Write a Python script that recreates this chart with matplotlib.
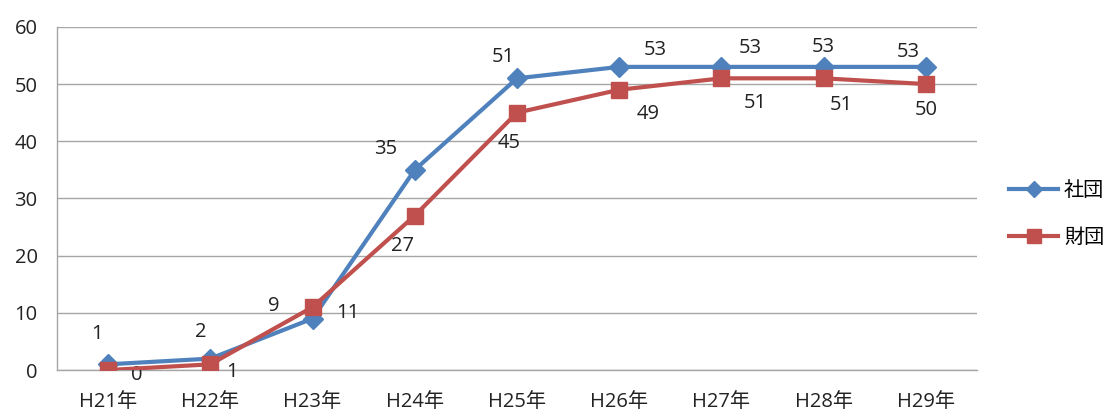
import matplotlib
matplotlib.use("Agg")
import matplotlib.pyplot as plt

plt.rcParams['font.family'] = ['Open Sans', 'Noto Sans CJK JP', 'DejaVu Sans']

years = ['H21年', 'H22年', 'H23年', 'H24年', 'H25年', 'H26年', 'H27年', 'H28年', 'H29年']
shadan = [1, 2, 9, 35, 51, 53, 53, 53, 53]
zaidan = [0, 1, 11, 27, 45, 49, 51, 51, 50]

# label offsets in pixels
shadan_off = [(-11, 30), (-10, 27), (-39, 13), (-29, 21), (-14, 21), (36, 17), (29, 19), (0, 20), (-18, 15)]
zaidan_off = [(29, -5), (22, -8), (35, -6), (-12, -30), (-8, -30), (29, -24), (34, -25), (18, -27), (0, -26)]

blue = '#4F81BD'
red = '#C0504D'
fs = 14.5

fig = plt.figure(figsize=(11.13, 4.13), dpi=100)
ax = fig.add_axes([0.0512, 0.104, 0.8266, 0.831])

x = range(len(years))
ax.plot(x, shadan, color=blue, lw=3, marker='D', ms=10, label='社団', zorder=3)
ax.plot(x, zaidan, color=red, lw=3, marker='s', ms=12, label='財団', zorder=4)

for i in x:
    ax.annotate(str(shadan[i]), (i, shadan[i]), xytext=shadan_off[i], textcoords='offset pixels',
                ha='center', va='center', fontsize=fs, color='#222222')
    ax.annotate(str(zaidan[i]), (i, zaidan[i]), xytext=zaidan_off[i], textcoords='offset pixels',
                ha='center', va='center', fontsize=fs, color='#222222')

ax.set_xlim(-0.5, len(years) - 0.5)
ax.set_ylim(0, 60)
ax.set_yticks(range(0, 61, 10))
ax.set_xticks(list(x))
ax.set_xticklabels(years)
ax.tick_params(axis='both', length=0, labelsize=fs, colors='#222222')
ax.tick_params(axis='y', pad=14)
ax.tick_params(axis='x', pad=16)

ax.grid(axis='y', color='#A6A6A6', lw=1)
ax.set_axisbelow(True)
for s in ['top', 'right']:
    ax.spines[s].set_visible(False)
for s in ['left', 'bottom']:
    ax.spines[s].set_color('#A6A6A6')
    ax.spines[s].set_linewidth(1)

leg = fig.legend(loc='center left', bbox_to_anchor=(0.907, 0.48), frameon=False,
                 borderpad=0, borderaxespad=0, markerscale=0.85,
                 fontsize=fs, handlelength=2.4, handletextpad=0.3, labelspacing=1.35)

fig.savefig('out.png', dpi=100)
